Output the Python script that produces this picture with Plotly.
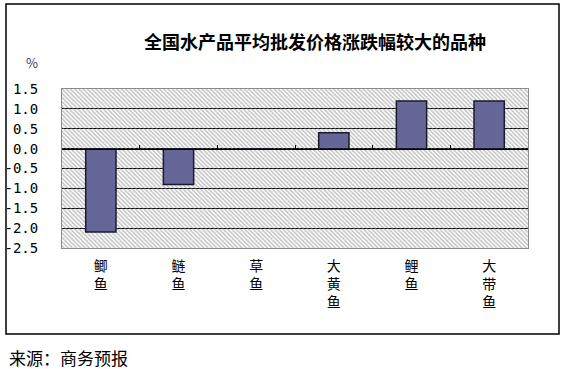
import plotly.graph_objects as go

categories = ["鲫<br>鱼", "鲢<br>鱼", "草<br>鱼", "大<br>黄<br>鱼", "鲤<br>鱼", "大<br>带<br>鱼"]
values = [-2.1, -0.9, 0.0, 0.4, 1.2, 1.2]
y_ticks = [1.5, 1.0, 0.5, 0.0, -0.5, -1.0, -1.5, -2.0, -2.5]
y_ticktext = ["%.1f" % v for v in y_ticks]
title_text = "全国水产品平均批发价格涨跌幅较大的品种"
unit_text = "%"
source_text = "来源：商务预报"

Y_MIN, Y_MAX = -2.5, 1.5
W, H = 565, 369
PL, PR, PT, PB = 62, 528, 89, 248  # plot area in pixels
L = PL
T = PT
pw = PR - PL
ph = PB - PT
R = W - L - pw
B = H - T - ph
n = len(categories)

def px_x(p):
    return (p - PL) / pw

def px_y(p):
    return (PB - p) / ph

fig = go.Figure()

# hatched plot-area background
fig.add_trace(go.Bar(
    x=[(n - 1) / 2], y=[Y_MAX - Y_MIN], base=[Y_MIN], width=[n],
    xaxis="x", yaxis="y",
    marker=dict(color="rgba(0,0,0,0)", line=dict(width=0),
                pattern=dict(shape="\\", size=3, solidity=0.5,
                             fgcolor="#858585", bgcolor="rgba(0,0,0,0)")),
    hoverinfo="skip", showlegend=False,
))

# data bars
fig.add_trace(go.Bar(
    x=categories, y=values, xaxis="x2", yaxis="y",
    marker=dict(color="#666699", line=dict(color="#1a1a2a", width=1.5)),
    showlegend=False,
))

fig.update_layout(
    width=W, height=H,
    margin=dict(l=L, r=R, t=T, b=B, autoexpand=False),
    paper_bgcolor="white", plot_bgcolor="white",
    bargap=0.61,
    font=dict(family="Noto Sans CJK SC", color="black"),
    title=dict(text="<b>" + title_text + "</b>", x=315 / W, xref="container",
               xanchor="center", y=1 - 43 / H, yref="container", yanchor="middle",
               font=dict(size=18, family="Noto Sans CJK SC", color="black")),
    xaxis=dict(type="linear", range=[-0.5, n - 0.5], anchor="free",
               position=(0 - Y_MIN) / (Y_MAX - Y_MIN),
               tickvals=[i - 0.5 for i in range(n + 1)], ticks="inside", ticklen=4,
               tickcolor="black", showticklabels=False, showline=True,
               linecolor="black", linewidth=1, showgrid=False, zeroline=False,
               fixedrange=True),
    xaxis2=dict(type="category", overlaying="x", anchor="y", side="bottom",
                categoryorder="array", categoryarray=categories,
                range=[-0.5, n - 0.5], showgrid=False, zeroline=False,
                showline=True, mirror=True, linecolor="#8c8c8c", linewidth=1,
                ticks="", ticklabelstandoff=5,
                tickfont=dict(size=14, family="Noto Sans CJK SC", color="black")),
    yaxis=dict(range=[Y_MIN, Y_MAX], tickvals=y_ticks, ticktext=y_ticktext,
               showgrid=True, gridcolor="black", gridwidth=1, zeroline=False,
               showline=True, mirror=True, linecolor="#8c8c8c", linewidth=1,
               ticks="", ticklabelstandoff=20,
               tickfont=dict(size=14, family="DejaVu Sans Mono", color="black")),
    annotations=[
        dict(text=unit_text, xref="paper", yref="paper", x=px_x(32), y=px_y(62),
             xanchor="center", yanchor="middle", showarrow=False,
             font=dict(size=13, color="#3a3a5a", family="Noto Sans CJK SC")),
        dict(text=source_text, xref="paper", yref="paper", x=px_x(7), y=px_y(357),
             xanchor="left", yanchor="middle", showarrow=False,
             font=dict(size=17, color="black", family="Noto Sans CJK SC")),
    ],
    shapes=[
        dict(type="rect", xref="paper", yref="paper",
             x0=px_x(6), x1=px_x(559), y0=px_y(334), y1=px_y(4),
             line=dict(color="black", width=1.5), fillcolor="rgba(0,0,0,0)",
             layer="above"),
    ],
)

fig.write_html("out.html", config={"displayModeBar": False},
               post_script="document.body.style.margin='0';document.body.style.overflow='hidden';")
